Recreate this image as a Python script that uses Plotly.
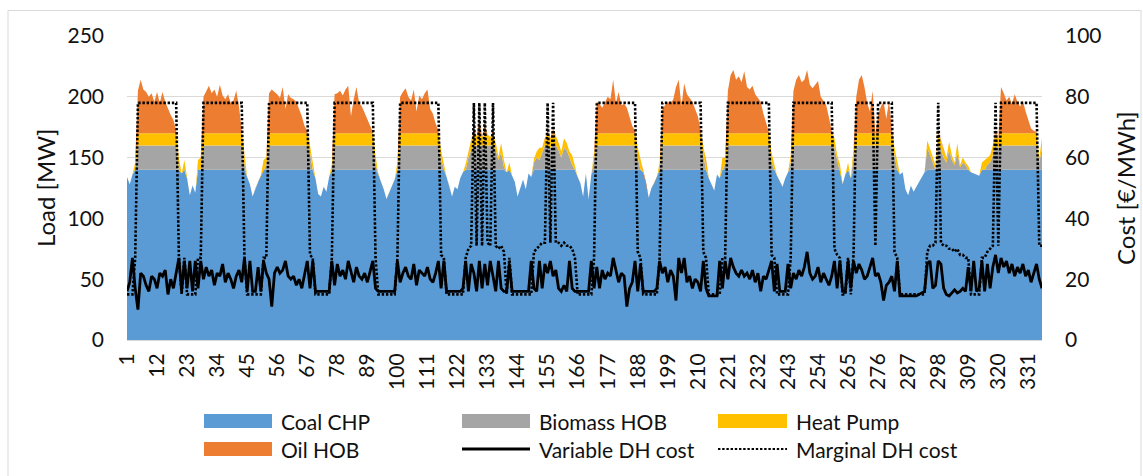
import plotly.graph_objects as go

# Hour index of the two-week period
HOURS = list(range(1, 337))
X_TICKS = [1, 12, 23, 34, 45, 56, 67, 78, 89, 100, 111, 122, 133, 144, 155, 166,
           177, 188, 199, 210, 221, 232, 243, 254, 265, 276, 287, 298, 309, 320, 331]
LOAD_TICKS = [0, 50, 100, 150, 200, 250]
COST_TICKS = [0, 20, 40, 60, 80, 100]

# Heat production per unit [MW], one row per day (24 h)
COAL_CHP = [
    134, 128, 136, 140, 140, 140, 140, 140, 140, 140, 140, 140, 140, 140, 140, 140, 140, 140, 140, 140, 137, 140, 133, 119,
    127, 121, 140, 140, 140, 140, 140, 140, 140, 140, 140, 140, 140, 140, 140, 140, 140, 140, 140, 140, 134, 128, 118, 125,
    130, 135, 140, 140, 140, 140, 140, 140, 140, 140, 140, 140, 140, 140, 140, 140, 140, 140, 140, 140, 140, 133, 120, 118,
    126, 122, 134, 140, 140, 140, 140, 140, 140, 140, 140, 140, 140, 140, 140, 140, 140, 140, 140, 140, 136, 130, 124, 116,
    121, 126, 132, 140, 140, 140, 140, 140, 140, 140, 140, 140, 140, 140, 140, 140, 140, 140, 140, 140, 140, 134, 127, 118,
    126, 124, 133, 138, 140, 140, 140, 140, 140, 140, 140, 140, 140, 140, 140, 140, 140, 140, 140, 138, 140, 135, 130, 118,
    125, 132, 124, 137, 134, 140, 140, 140, 140, 140, 140, 140, 140, 140, 140, 140, 140, 140, 140, 140, 140, 134, 129, 118,
    137, 116, 136, 140, 140, 140, 140, 140, 140, 140, 140, 140, 140, 140, 140, 140, 140, 140, 140, 140, 140, 138, 130, 117,
    125, 129, 134, 140, 140, 140, 140, 140, 140, 140, 140, 140, 140, 140, 140, 140, 140, 140, 140, 140, 140, 133, 128, 123,
    136, 133, 140, 140, 140, 140, 140, 140, 140, 140, 140, 140, 140, 140, 140, 140, 140, 140, 140, 140, 140, 140, 135, 130,
    126, 133, 138, 140, 140, 140, 140, 140, 140, 140, 140, 140, 140, 140, 140, 140, 140, 140, 140, 140, 140, 140, 128, 136,
    140, 133, 140, 140, 140, 140, 140, 140, 140, 140, 140, 140, 140, 140, 140, 140, 140, 140, 140, 136, 138, 124, 119, 127,
    122, 126, 130, 135, 138, 140, 140, 140, 140, 140, 140, 140, 140, 140, 140, 140, 140, 140, 140, 140, 140, 138, 137, 136,
    135, 140, 140, 140, 140, 140, 140, 140, 140, 140, 140, 140, 140, 140, 140, 140, 140, 140, 140, 140, 140, 140, 140, 140,
]

BIOMASS_HOB = [
    0, 0, 0, 0, 20, 20, 20, 20, 20, 20, 20, 20, 20, 20, 20, 20, 20, 20, 20, 0, 0, 0, 0, 0,
    0, 0, 0, 0, 20, 20, 20, 20, 20, 20, 20, 20, 20, 20, 20, 20, 20, 20, 20, 4, 0, 0, 0, 0,
    0, 0, 0, 4, 20, 20, 20, 20, 20, 20, 20, 20, 20, 20, 20, 20, 20, 20, 20, 14, 0, 0, 0, 0,
    0, 0, 0, 0, 20, 20, 20, 20, 20, 20, 20, 20, 20, 20, 20, 20, 20, 20, 20, 4, 0, 0, 0, 0,
    0, 0, 0, 0, 20, 20, 20, 20, 20, 20, 20, 20, 20, 20, 20, 20, 20, 20, 20, 8, 0, 0, 0, 0,
    0, 0, 0, 0, 0, 10, 16, 20, 20, 20, 20, 20, 20, 20, 20, 16, 8, 14, 2, 0, 0, 0, 0, 0,
    0, 0, 0, 0, 0, 6, 10, 8, 14, 20, 20, 18, 20, 20, 16, 10, 18, 16, 10, 4, 0, 0, 0, 0,
    0, 0, 0, 8, 20, 20, 20, 20, 20, 20, 20, 20, 20, 20, 20, 20, 20, 20, 20, 10, 0, 0, 0, 0,
    0, 0, 0, 0, 20, 20, 20, 20, 20, 20, 20, 20, 20, 20, 20, 20, 20, 20, 20, 12, 0, 0, 0, 0,
    0, 0, 0, 4, 20, 20, 20, 20, 20, 20, 20, 20, 20, 20, 20, 20, 20, 20, 20, 20, 6, 0, 0, 0,
    0, 0, 0, 6, 20, 20, 20, 20, 20, 20, 20, 20, 20, 20, 20, 20, 20, 20, 20, 18, 8, 0, 0, 0,
    0, 0, 10, 20, 20, 20, 20, 20, 20, 20, 20, 20, 20, 20, 20, 20, 20, 12, 0, 0, 0, 0, 0, 0,
    0, 0, 0, 0, 0, 18, 12, 6, 0, 20, 16, 10, 6, 16, 8, 4, 14, 2, 6, 4, 0, 0, 0, 0,
    0, 0, 0, 4, 6, 12, 20, 18, 20, 20, 20, 20, 20, 20, 20, 20, 20, 20, 20, 20, 20, 20, 6, 18,
]

HEAT_PUMP = [
    0, 0, 0, 6, 10, 10, 10, 10, 10, 10, 10, 10, 10, 10, 10, 10, 10, 10, 10, 10, 0, 8, 0, 0,
    0, 0, 8, 10, 10, 10, 10, 10, 10, 10, 10, 10, 10, 10, 10, 10, 10, 10, 10, 8, 0, 0, 0, 0,
    0, 0, 8, 6, 10, 10, 10, 10, 10, 10, 10, 10, 10, 10, 10, 10, 10, 10, 10, 6, 5, 0, 0, 0,
    0, 0, 0, 5, 10, 10, 10, 10, 10, 10, 10, 10, 10, 10, 10, 10, 10, 10, 10, 8, 0, 0, 0, 0,
    0, 0, 0, 6, 10, 10, 10, 10, 10, 10, 10, 10, 10, 10, 10, 10, 10, 10, 10, 8, 4, 0, 0, 0,
    0, 0, 0, 0, 5, 4, 8, 10, 8, 10, 7, 10, 9, 7, 10, 6, 3, 8, 6, 0, 6, 0, 0, 0,
    0, 0, 0, 0, 0, 3, 5, 10, 4, 6, 10, 8, 10, 8, 6, 5, 8, 6, 5, 8, 3, 0, 0, 0,
    0, 0, 0, 6, 10, 10, 10, 10, 10, 10, 10, 10, 10, 10, 10, 10, 10, 10, 10, 8, 9, 0, 0, 0,
    0, 0, 0, 6, 10, 10, 10, 10, 10, 10, 10, 10, 10, 10, 10, 10, 10, 10, 10, 7, 8, 0, 0, 0,
    0, 0, 10, 6, 10, 10, 10, 10, 10, 10, 10, 10, 10, 10, 10, 10, 10, 10, 10, 10, 8, 4, 0, 0,
    0, 0, 0, 6, 10, 10, 10, 10, 10, 10, 10, 10, 10, 10, 10, 10, 10, 10, 10, 8, 4, 5, 0, 0,
    6, 0, 8, 10, 10, 10, 10, 10, 10, 10, 10, 10, 10, 10, 10, 10, 10, 6, 6, 0, 0, 0, 0, 0,
    0, 0, 0, 0, 0, 6, 5, 4, 4, 10, 8, 6, 4, 7, 4, 2, 8, 2, 4, 2, 3, 0, 0, 0,
    0, 6, 8, 6, 6, 8, 10, 8, 10, 10, 10, 10, 10, 10, 10, 10, 10, 10, 10, 10, 10, 10, 4, 8,
]

OIL_HOB = [
    0, 0, 0, 0, 35, 44, 36, 34, 30, 33, 26, 34, 25, 34, 26, 20, 15, 11, 2, 0, 0, 0, 0, 0,
    0, 0, 0, 0, 30, 35, 39, 33, 36, 30, 40, 31, 28, 32, 25, 27, 35, 22, 3, 0, 0, 0, 0, 0,
    0, 0, 0, 0, 33, 36, 34, 32, 29, 38, 20, 32, 29, 28, 26, 20, 14, 6, 2, 0, 0, 0, 0, 0,
    0, 0, 0, 0, 32, 33, 35, 31, 36, 39, 14, 28, 38, 25, 22, 17, 12, 6, 1, 0, 0, 0, 0, 0,
    0, 0, 0, 0, 30, 34, 37, 30, 27, 36, 18, 31, 28, 33, 36, 20, 16, 8, 2, 0, 0, 0, 0, 0,
    0, 0, 0, 0, 0, 0, 0, 3, 0, 11, 0, 7, 0, 0, 2, 0, 0, 0, 0, 0, 0, 0, 0, 0,
    0, 0, 0, 0, 0, 0, 0, 0, 0, 0, 2, 0, 4, 0, 0, 0, 0, 0, 0, 0, 0, 0, 0, 0,
    0, 0, 0, 0, 26, 24, 21, 26, 30, 28, 44, 25, 34, 23, 24, 21, 14, 6, 2, 0, 0, 0, 0, 0,
    0, 0, 0, 0, 20, 23, 26, 24, 28, 38, 44, 22, 41, 32, 29, 26, 20, 14, 3, 0, 0, 0, 0, 0,
    0, 0, 0, 0, 35, 48, 52, 44, 47, 42, 51, 38, 36, 39, 32, 29, 26, 16, 8, 1, 0, 0, 0, 0,
    0, 0, 0, 0, 35, 44, 48, 42, 44, 52, 40, 37, 40, 43, 30, 26, 23, 13, 2, 0, 0, 0, 0, 0,
    0, 0, 0, 30, 44, 48, 38, 25, 18, 35, 0, 15, 22, 26, 12, 27, 4, 0, 0, 0, 0, 0, 0, 0,
    0, 0, 0, 0, 0, 0, 0, 0, 0, 2, 0, 0, 0, 0, 0, 0, 0, 0, 0, 0, 0, 0, 0, 0,
    0, 0, 0, 0, 0, 0, 3, 0, 38, 33, 27, 30, 24, 32, 26, 22, 27, 18, 10, 4, 2, 1, 0, 0,
]

# District heating cost [EUR/MWh]
VARIABLE_COST = [
    16, 19, 27, 17, 10, 22, 21, 18, 16, 21, 20, 17, 22, 21, 23, 15, 20, 17, 22, 27, 16, 26, 17, 26,
    16, 26, 17, 26, 20, 24, 21, 23, 18, 22, 21, 25, 19, 22, 20, 17, 21, 23, 19, 27, 16, 26, 16, 16,
    24, 16, 26, 22, 20, 11, 22, 24, 22, 23, 26, 21, 20, 21, 18, 20, 17, 21, 26, 17, 26, 16, 16, 16,
    16, 16, 16, 26, 18, 25, 21, 23, 20, 26, 22, 19, 24, 21, 20, 22, 19, 23, 26, 17, 16, 16, 16, 16,
    16, 16, 16, 26, 19, 22, 24, 21, 20, 25, 18, 23, 22, 21, 24, 20, 19, 22, 26, 17, 26, 16, 16, 16,
    16, 16, 16, 17, 26, 16, 25, 22, 16, 26, 17, 25, 18, 26, 21, 16, 26, 17, 16, 16, 25, 16, 16, 16,
    16, 16, 16, 16, 26, 17, 16, 26, 17, 25, 22, 26, 21, 23, 17, 16, 18, 16, 26, 17, 16, 16, 16, 16,
    16, 16, 26, 17, 24, 17, 23, 20, 22, 21, 27, 23, 19, 22, 21, 11, 17, 19, 26, 16, 25, 16, 16, 16,
    16, 16, 17, 26, 22, 24, 19, 23, 21, 13, 27, 22, 27, 19, 21, 17, 20, 19, 16, 26, 17, 14.5, 14.5, 14.5,
    14.5, 26, 17, 26, 20, 27, 24, 22, 21, 23, 21, 22, 20, 23, 19, 22, 16, 21, 20, 23, 26, 16, 25, 16,
    16, 16, 25, 17, 22, 20, 23, 21, 24, 29, 22, 20, 21, 24, 19, 22, 20, 18, 21, 26, 17, 26, 16, 16,
    26, 17, 26, 22, 25, 23, 20, 21, 24, 27, 21, 22, 19, 13, 18, 19, 21, 16, 26, 14.5, 14.5, 14.5, 14.5, 14.5,
    14.5, 14.5, 15, 15.5, 16, 25, 26, 17, 18, 26, 25, 17, 15, 14.5, 15.5, 16.5, 15.5, 16, 17, 16, 24, 16, 26, 16,
    17, 26, 16, 25, 17, 24, 28, 22, 27, 24, 26, 22, 25, 21, 24, 22, 25, 21, 23, 19, 22, 25, 20, 17,
]

MARGINAL_COST = [
    15, 15, 15, 27, 78, 78, 78, 78, 78, 78, 78, 78, 78, 78, 78, 78, 78, 78, 78, 27, 15, 27, 15, 15,
    15, 15, 27, 27, 78, 78, 78, 78, 78, 78, 78, 78, 78, 78, 78, 78, 78, 78, 78, 27, 15, 15, 15, 15,
    15, 15, 27, 27, 78, 78, 78, 78, 78, 78, 78, 78, 78, 78, 78, 78, 78, 78, 78, 28, 27, 15, 15, 15,
    15, 15, 15, 27, 78, 78, 78, 78, 78, 78, 78, 78, 78, 78, 78, 78, 78, 78, 78, 27, 15, 15, 15, 15,
    15, 15, 15, 27, 78, 78, 78, 78, 78, 78, 78, 78, 78, 78, 78, 78, 78, 78, 78, 28, 27, 15, 15, 15,
    15, 15, 15, 15, 27, 30, 31, 78, 31, 78, 31, 78, 32, 31, 78, 31, 30, 31, 29, 15, 27, 15, 15, 15,
    15, 15, 15, 15, 15, 29, 30, 31, 32, 32, 78, 32, 78, 32, 32, 31, 32, 31, 31, 30, 27, 15, 15, 15,
    15, 15, 15, 27, 78, 78, 78, 78, 78, 78, 78, 78, 78, 78, 78, 78, 78, 78, 78, 29, 27, 15, 15, 15,
    15, 15, 15, 27, 78, 78, 78, 78, 78, 78, 78, 78, 78, 78, 78, 78, 78, 78, 78, 29, 27, 15, 15, 15,
    15, 15, 27, 27, 78, 78, 78, 78, 78, 78, 78, 78, 78, 78, 78, 78, 78, 78, 78, 78, 28, 27, 15, 15,
    15, 15, 15, 27, 78, 78, 78, 78, 78, 78, 78, 78, 78, 78, 78, 78, 78, 78, 78, 30, 28, 27, 15, 15,
    27, 15, 28, 78, 78, 78, 78, 78, 78, 78, 31, 78, 78, 78, 78, 78, 78, 29, 27, 15, 15, 15, 15, 15,
    15, 15, 15, 15, 15, 29, 31, 31, 32, 78, 32, 31, 31, 30, 30, 29, 30, 28, 28, 27, 27, 15, 15, 15,
    15, 27, 27, 29, 30, 31, 78, 31, 78, 78, 78, 78, 78, 78, 78, 78, 78, 78, 78, 78, 78, 78, 31, 31,
]

for _name, _vals in [("COAL_CHP", COAL_CHP), ("BIOMASS_HOB", BIOMASS_HOB), ("HEAT_PUMP", HEAT_PUMP),
                     ("OIL_HOB", OIL_HOB), ("VARIABLE_COST", VARIABLE_COST), ("MARGINAL_COST", MARGINAL_COST)]:
    assert len(_vals) == len(HOURS), f"{_name} has {len(_vals)} values"

# Page geometry (pixels) of the plotting area
W, H = 1143, 476
PL, PR, PT, PB = 127, 1042, 36, 340
PW, PH = PR - PL, PB - PT


def px(xp):
    return (xp - PL) / PW


def py(yp):
    return (PB - yp) / PH


FONT = "Lato"
TXT = "#111111"
GRID = "#D9D9D9"
DOT_DASH = "2.4px,1.8px"

fig = go.Figure()

area_series = [
    ("Coal CHP", COAL_CHP, "#5B9BD5"),
    ("Biomass HOB", BIOMASS_HOB, "#A5A5A5"),
    ("Heat Pump", HEAT_PUMP, "#FFC000"),
    ("Oil HOB", OIL_HOB, "#ED7D31"),
]
for name, vals, color in area_series:
    fig.add_trace(go.Scatter(
        x=HOURS, y=vals, name=name, mode="lines", stackgroup="load",
        line=dict(width=0, color=color), fillcolor=color, showlegend=False,
    ))

fig.add_trace(go.Scatter(
    x=HOURS, y=VARIABLE_COST, name="Variable DH cost", mode="lines", yaxis="y2",
    line=dict(color="black", width=2.8), showlegend=False,
))
fig.add_trace(go.Scatter(
    x=HOURS, y=MARGINAL_COST, name="Marginal DH cost", mode="lines", yaxis="y2",
    line=dict(color="black", width=2.6, dash=DOT_DASH), showlegend=False,
))

tick_font = dict(family=FONT, size=21, color=TXT)

fig.update_layout(
    width=W, height=H,
    margin=dict(l=PL, r=W - PR, t=PT, b=H - PB, pad=0),
    paper_bgcolor="white", plot_bgcolor="white",
    font=dict(family=FONT, color=TXT),
    xaxis=dict(
        range=[1, 336], tickmode="array", tickvals=X_TICKS, ticktext=[str(t) for t in X_TICKS],
        tickangle=-90, tickfont=tick_font, showgrid=False, zeroline=False,
        showline=True, linecolor=GRID, linewidth=1, ticks="", ticklabelstandoff=4,
    ),
    yaxis=dict(
        range=[0, 250], tickmode="array", tickvals=LOAD_TICKS, tickfont=tick_font,
        showgrid=True, gridcolor=GRID, gridwidth=1, zeroline=False, showline=False,
        ticks="", ticklabelstandoff=22,
    ),
    yaxis2=dict(
        range=[0, 100], tickmode="array", tickvals=COST_TICKS, tickfont=tick_font,
        overlaying="y", side="right", showgrid=False, zeroline=False, showline=False,
        ticks="", ticklabelstandoff=22,
    ),
    showlegend=False,
)

annotations = [
    dict(text="Load [MW]", x=px(45), y=0.5, xref="paper", yref="paper", textangle=-90,
         showarrow=False, xanchor="center", yanchor="middle", font=dict(family=FONT, size=24, color=TXT)),
    dict(text="Cost [€/MWh]", x=px(1125), y=0.5, xref="paper", yref="paper", textangle=-90,
         showarrow=False, xanchor="center", yanchor="middle", font=dict(family=FONT, size=24, color=TXT)),
]
shapes = [
    # outer chart frame
    dict(type="rect", xref="paper", yref="paper", x0=px(8), x1=px(1141), y0=py(482), y1=py(10.5),
         line=dict(color=GRID, width=1), fillcolor="rgba(0,0,0,0)", layer="below"),
]

# Legend: three columns, two rows
col_swatch = [(204, 272), (462, 530), (718, 787)]
row_y = [421, 449]
legend_items = [
    ("Coal CHP", "area", "#5B9BD5", 0, 0),
    ("Biomass HOB", "area", "#A5A5A5", 0, 1),
    ("Heat Pump", "area", "#FFC000", 0, 2),
    ("Oil HOB", "area", "#ED7D31", 1, 0),
    ("Variable DH cost", "solid", "black", 1, 1),
    ("Marginal DH cost", "dot", "black", 1, 2),
]
for label, kind, color, r, c in legend_items:
    x0, x1 = col_swatch[c]
    yc = row_y[r]
    if kind == "area":
        shapes.append(dict(type="rect", xref="paper", yref="paper", x0=px(x0), x1=px(x1),
                           y0=py(yc + 7), y1=py(yc - 7), line=dict(width=0), fillcolor=color))
    elif kind == "solid":
        shapes.append(dict(type="line", xref="paper", yref="paper", x0=px(x0), x1=px(x1),
                           y0=py(yc), y1=py(yc), line=dict(color=color, width=2.8)))
    else:
        shapes.append(dict(type="line", xref="paper", yref="paper", x0=px(x0), x1=px(x1),
                           y0=py(yc), y1=py(yc), line=dict(color=color, width=2.2, dash=DOT_DASH)))
    annotations.append(dict(text=label, x=px(x1 + 7), y=py(yc), xref="paper", yref="paper",
                            showarrow=False, xanchor="left", yanchor="middle",
                            font=dict(family=FONT, size=21, color=TXT)))

fig.update_layout(annotations=annotations, shapes=shapes)

fig.write_html("out.html")
